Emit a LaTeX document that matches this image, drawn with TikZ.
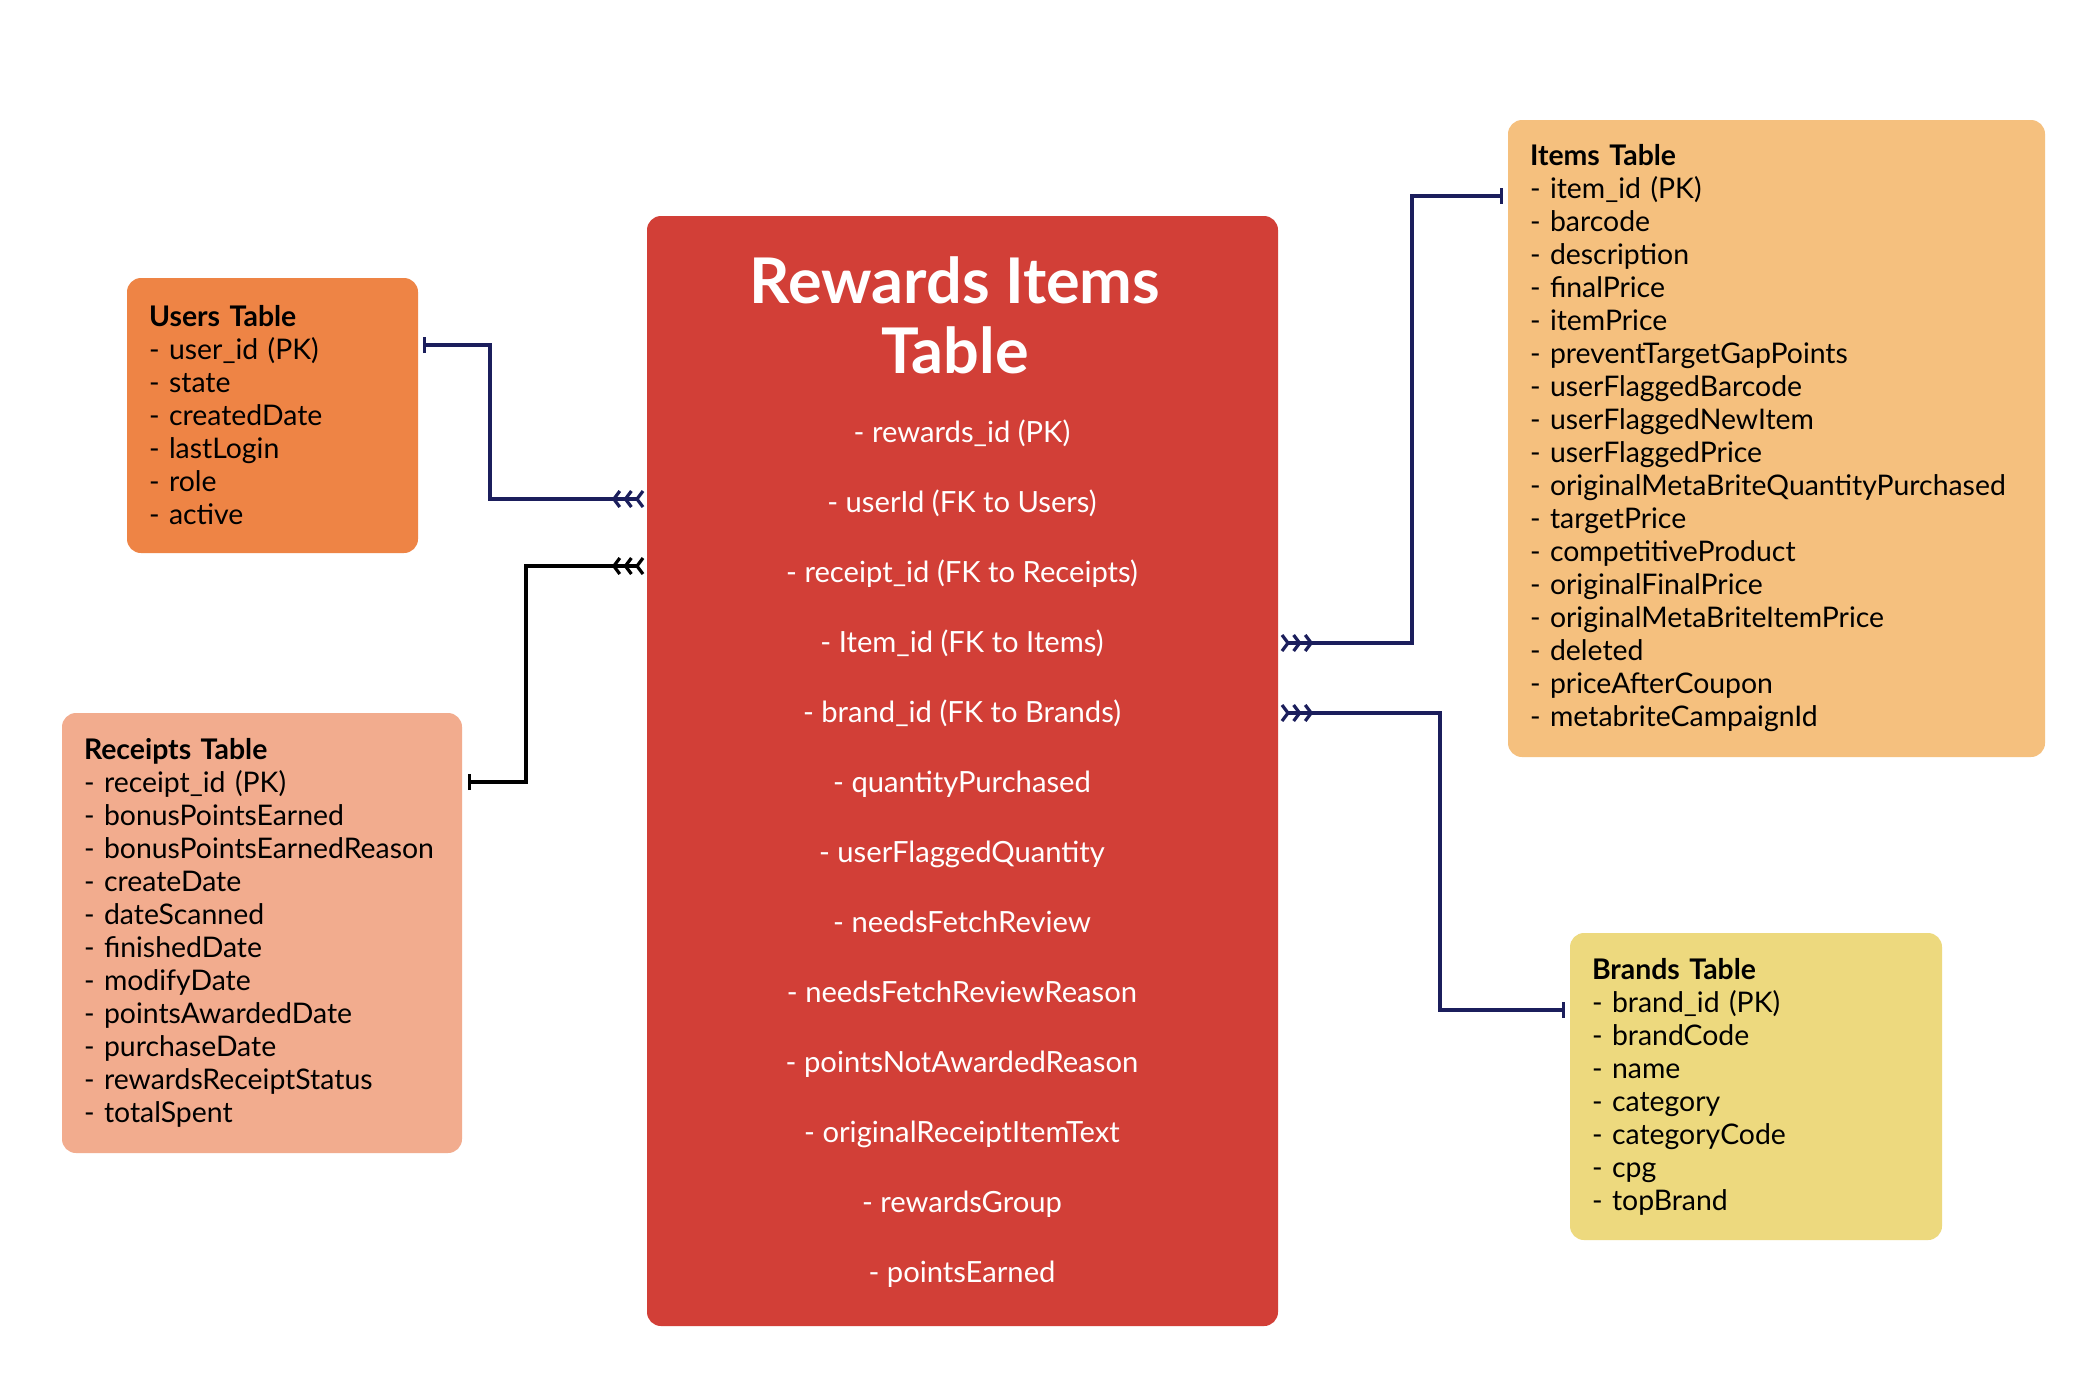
\documentclass[tikz,border=0pt]{standalone}
\usepackage{fontspec}
\setmainfont{Lato}
\usetikzlibrary{arrows.meta}

\definecolor{usersorange}{HTML}{EE8445}
\definecolor{receiptsalmon}{HTML}{F2AC8E}
\definecolor{rewardsred}{HTML}{D23F37}
\definecolor{itemsorange}{HTML}{F5C07E}
\definecolor{brandsyellow}{HTML}{EDD97E}
\definecolor{linknavy}{HTML}{1B1E5C}

\begin{document}
\begin{tikzpicture}[x=0.5pt, y=-0.5pt,
  table/.style={rectangle, rounded corners=7pt, align=left, inner xsep=11pt, inner ysep=0pt,
    font=\fontsize{14.2}{16.5}\selectfont},
  field/.style={text=white, anchor=base, inner sep=0pt, font=\fontsize{14.6}{18}\selectfont},
  link/.style={line width=1.6pt, {Bar[width=8pt]}-{Straight Barb[reversed,length=3pt,width=8pt,sep=1pt]
    Straight Barb[reversed,length=3pt,width=8pt,sep=1pt]Straight Barb[reversed,length=3pt,width=8pt,sep=1pt]}}]
\useasboundingbox (0,0) rectangle (2098,1378);
\fill[white] (0,0) rectangle (2098,1378);

\node [table, fill=usersorange, text width=123.5pt, minimum height=137.5pt] (users) at (272.5,415.5)
  {\textbf{Users Table}\\- user\_id (PK)\\- state\\- createdDate\\- lastLogin\\- role\\- active};
\node [table, fill=receiptsalmon, text width=178pt, minimum height=220pt] (receipts) at (262,933)
  {\textbf{Receipts Table}\\- receipt\_id (PK)\\- bonusPointsEarned\\- bonusPointsEarnedReason\\- createDate\\- dateScanned\\- finishedDate\\- modifyDate\\- pointsAwardedDate\\- purchaseDate\\- rewardsReceiptStatus\\- totalSpent};
\node [table, fill=itemsorange, text width=246.5pt, minimum height=318.5pt] (items) at (1776.5,438.5)
  {\textbf{Items Table}\\- item\_id (PK)\\- barcode\\- description\\- finalPrice\\- itemPrice\\- preventTargetGapPoints\\- userFlaggedBarcode\\- userFlaggedNewItem\\- userFlaggedPrice\\- originalMetaBriteQuantityPurchased\\- targetPrice\\- competitiveProduct\\- originalFinalPrice\\- originalMetaBriteItemPrice\\- deleted\\- priceAfterCoupon\\- metabriteCampaignId};
\node [table, fill=brandsyellow, text width=164pt, minimum height=153.5pt] (brands) at (1756,1086.5)
  {\textbf{Brands Table}\\- brand\_id (PK)\\- brandCode\\- name\\- category\\- categoryCode\\- cpg\\- topBrand};

\node [rectangle, rounded corners=7pt, fill=rewardsred, minimum width=315.5pt, minimum height=555pt] (rewards) at (962.5,771) {};
\node [text=white, align=center, anchor=north, inner sep=0pt, font=\fontsize{31.5}{35}\selectfont\bfseries] (title) at (955,256)
  {Rewards Items\\Table};
\foreach \f [count=\i] in {- rewards\_id (PK), - userId (FK to Users), - receipt\_id (FK to Receipts),
    - Item\_id (FK to Items), - brand\_id (FK to Brands), - quantityPurchased, - userFlaggedQuantity,
    - needsFetchReview, - needsFetchReviewReason, - pointsNotAwardedReason, - originalReceiptItemText,
    - rewardsGroup, - pointsEarned}
  \node [field] (f\i) at (962,372+70*\i) {\f};

\coordinate (userpk) at (423,345);
\coordinate (receiptpk) at (468,782);
\coordinate (itempk) at (1503,196);
\coordinate (brandpk) at (1565,1010);

\draw[link, linknavy] (userpk) -- ++(67,0) |- ([yshift=6.5pt]rewards.west |- f2.base);
\draw[link, black] (receiptpk) -- ++(58,0) |- ([yshift=8pt]rewards.west |- f3.base);
\draw[link, linknavy] (itempk) -- ++(-91,0) |- ([yshift=4.5pt]rewards.east |- f4.base);
\draw[link, linknavy] (brandpk) -- ++(-125,0) |- ([yshift=4.5pt]rewards.east |- f5.base);
\end{tikzpicture}
\end{document}
